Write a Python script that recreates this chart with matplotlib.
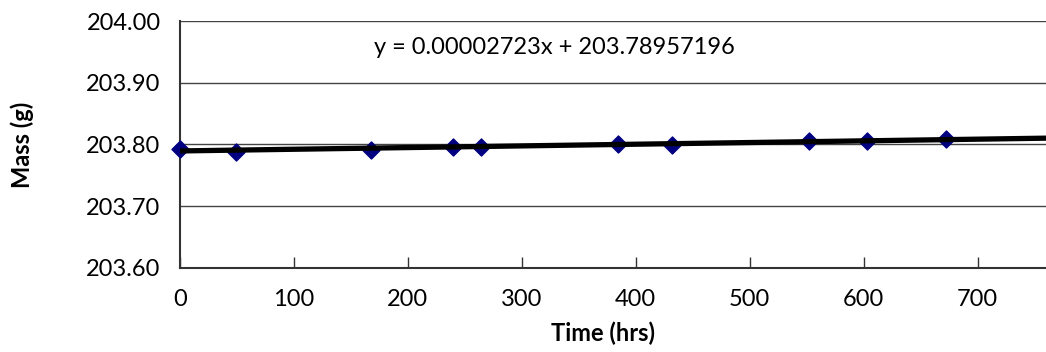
import matplotlib
matplotlib.use("Agg")
import matplotlib.pyplot as plt
import numpy as np

plt.rcParams["font.family"] = ["Lato", "DejaVu Sans"]

# measured mass over time
time_hrs = [0, 49, 168, 240, 264, 384, 432, 552, 603, 672]
mass_g = [203.7922, 203.7883, 203.7911, 203.7955, 203.7955,
          203.8008, 203.7992, 203.8062, 203.8057, 203.8089]

# linear trendline as reported on the chart
slope = 0.00002723
intercept = 203.78957196

x_max = 760
y_ticks = [203.60, 203.70, 203.80, 203.90, 204.00]
x_ticks = [0, 100, 200, 300, 400, 500, 600, 700]

fig = plt.figure(figsize=(10.46, 3.52), dpi=100)
ax = fig.add_axes([180 / 1046, 1 - 268 / 352, 1 - 180 / 1046, (268 - 21) / 352])

ax.scatter(time_hrs, mass_g, marker="D", s=75, color="#000080", zorder=3, clip_on=False)
tx = np.array([0, x_max])
ax.plot(tx, slope * tx + intercept, color="black", linewidth=3.8, zorder=4,
        solid_capstyle="butt")

ax.set_xlim(0, x_max)
ax.set_ylim(203.60, 204.00)
ax.set_yticks(y_ticks)
ax.set_yticklabels([f"{v:.2f}" for v in y_ticks])
ax.set_xticks(x_ticks)
ax.yaxis.grid(True, color="#444444", linewidth=1.0)
ax.set_axisbelow(True)

ax.tick_params(axis="x", direction="in", length=8, width=1, color="#333333",
               labelsize=17, pad=15)
ax.tick_params(axis="y", length=0, labelsize=17, pad=26 - 12)

for s in ["top", "right"]:
    ax.spines[s].set_visible(False)
for s in ["left", "bottom"]:
    ax.spines[s].set_color("#333333")
    ax.spines[s].set_linewidth(1.5)

ax.set_xlabel("Time (hrs)", fontsize=17, fontweight="bold")
ax.set_ylabel("Mass (g)", fontsize=17, fontweight="bold")
ax.xaxis.set_label_coords((603 - 180) / 866, (268 - 333) / 247)
ax.yaxis.set_label_coords((22 - 180) / 866, (268 - 145) / 247)
ax.xaxis.label.set_va("center")
ax.yaxis.label.set_va("center")

ax.text(554 / 1046, 1 - 48 / 352, "y = 0.00002723x + 203.78957196",
        transform=fig.transFigure, ha="center", va="center", fontsize=17)

fig.savefig("out.png", dpi=100, facecolor="white")
